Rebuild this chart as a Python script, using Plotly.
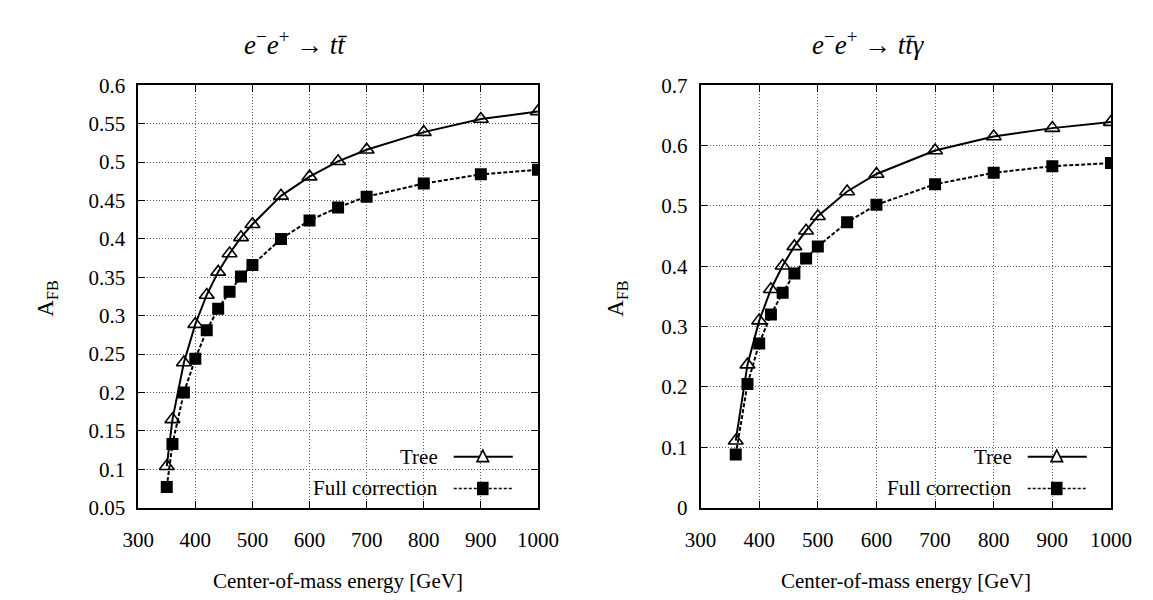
import plotly.graph_objects as go

# ---------------- data ----------------
energy_tt = [350, 360, 380, 400, 420, 440, 460, 480, 500, 550, 600, 650, 700, 800, 900, 1000]
tree_tt = [0.104, 0.165, 0.239, 0.289, 0.327, 0.357, 0.381, 0.402, 0.419, 0.456, 0.481, 0.501, 0.516, 0.539, 0.556, 0.566]
full_tt = [0.077, 0.133, 0.200, 0.244, 0.281, 0.309, 0.331, 0.351, 0.366, 0.400, 0.424, 0.441, 0.455, 0.472, 0.484, 0.490]

energy_ttg = [360, 380, 400, 420, 440, 460, 480, 500, 550, 600, 700, 800, 900, 1000]
tree_ttg = [0.111, 0.237, 0.310, 0.362, 0.401, 0.433, 0.459, 0.483, 0.524, 0.553, 0.592, 0.615, 0.629, 0.639]
full_ttg = [0.088, 0.205, 0.272, 0.320, 0.356, 0.388, 0.413, 0.433, 0.473, 0.502, 0.536, 0.555, 0.566, 0.571]

x_ticks = [300, 400, 500, 600, 700, 800, 900, 1000]
x_ticklabels = ["300", "400", "500", "600", "700", "800", "900", "1000"]
y1_ticks = [0.05, 0.1, 0.15, 0.2, 0.25, 0.3, 0.35, 0.4, 0.45, 0.5, 0.55, 0.6]
y1_ticklabels = ["0.05", "0.1", "0.15", "0.2", "0.25", "0.3", "0.35", "0.4", "0.45", "0.5", "0.55", "0.6"]
y2_ticks = [0, 0.1, 0.2, 0.3, 0.4, 0.5, 0.6, 0.7]
y2_ticklabels = ["0", "0.1", "0.2", "0.3", "0.4", "0.5", "0.6", "0.7"]

series_names = ["Tree", "Full correction"]
titles = ["<i>e</i><sup>\u2212</sup><i>e</i><sup>+</sup> \u2192 <i>t</i><i>t\u0304</i>",
          "<i>e</i><sup>\u2212</sup><i>e</i><sup>+</sup> \u2192 <i>t</i><i>t\u0304</i><i>\u03b3</i>"]
x_title = "Center-of-mass energy [GeV]"
y_title = "A<sub>FB</sub>"

# ---------------- layout helpers ----------------
W, H = 1153, 600
FONT = "Liberation Serif, Times New Roman, serif"


def px(x):
    return x / W


def py(y):
    return 1 - y / H


dom1 = [px(118), px(531)]
dom2 = [px(699), px(1123)]
ydom = [py(508), py(68)]

fig = go.Figure()

tree_style = dict(mode="lines+markers", line=dict(color="black", width=2),
                  marker=dict(symbol="triangle-up-open", size=13, color="black",
                              line=dict(width=1.6, color="black")))
full_style = dict(mode="lines+markers", line=dict(color="black", width=2, dash="4px,2px"),
                  marker=dict(symbol="square", size=12, color="black"))

fig.add_trace(go.Scatter(x=energy_tt, y=tree_tt, name=series_names[0], xaxis="x", yaxis="y",
                         showlegend=False, **tree_style))
fig.add_trace(go.Scatter(x=energy_tt, y=full_tt, name=series_names[1], xaxis="x", yaxis="y",
                         showlegend=False, **full_style))
fig.add_trace(go.Scatter(x=energy_ttg, y=tree_ttg, name=series_names[0], xaxis="x2", yaxis="y2",
                         showlegend=False, **tree_style))
fig.add_trace(go.Scatter(x=energy_ttg, y=full_ttg, name=series_names[1], xaxis="x2", yaxis="y2",
                         showlegend=False, **full_style))

axis_common = dict(showline=True, linecolor="black", linewidth=1.5, mirror="ticks",
                   ticks="inside", ticklen=7, tickwidth=1, tickcolor="black",
                   showgrid=True, gridcolor="#555", gridwidth=1, griddash="1px,2px",
                   zeroline=False, tickfont=dict(family=FONT, size=21, color="black"))

fig.update_layout(
    width=W, height=H,
    margin=dict(l=0, r=0, t=0, b=0),
    paper_bgcolor="white", plot_bgcolor="white",
    showlegend=False,
    font=dict(family=FONT, color="black"),
    xaxis=dict(domain=dom1, range=[300, 1000], tickvals=x_ticks, ticktext=x_ticklabels,
               anchor="y", ticklabelstandoff=12, **axis_common),
    yaxis=dict(domain=ydom, range=[0.05, 0.6], tickvals=y1_ticks, ticktext=y1_ticklabels,
               anchor="x", ticklabelstandoff=7, **axis_common),
    xaxis2=dict(domain=dom2, range=[300, 1000], tickvals=x_ticks, ticktext=x_ticklabels,
                anchor="y2", ticklabelstandoff=12, **axis_common),
    yaxis2=dict(domain=ydom, range=[0, 0.7], tickvals=y2_ticks, ticktext=y2_ticklabels,
                anchor="x2", ticklabelstandoff=7, **axis_common),
)

ann = []
shapes = []
# titles
ann.append(dict(text=titles[0], x=px(281), y=py(24), xref="paper", yref="paper",
                showarrow=False, xanchor="center", yanchor="middle",
                font=dict(family=FONT, size=27, color="black")))
ann.append(dict(text=titles[1], x=px(872), y=py(24), xref="paper", yref="paper",
                showarrow=False, xanchor="center", yanchor="middle",
                font=dict(family=FONT, size=27, color="black")))
# x titles
for cx in [(118 + 531) / 2, (699 + 1123) / 2]:
    ann.append(dict(text=x_title, x=px(cx), y=py(584), xref="paper", yref="paper",
                    showarrow=False, xanchor="center", yanchor="middle",
                    font=dict(family=FONT, size=21, color="black")))
# y titles
for cx in [24, 613]:
    ann.append(dict(text=y_title, x=px(cx), y=py(290), xref="paper", yref="paper",
                    showarrow=False, xanchor="center", yanchor="middle", textangle=-90,
                    font=dict(family=FONT, size=23, color="black")))

# custom keys (text right-aligned, sample to the right)
keys = [dict(box=(240, 531), text_r=430, s0=444, s1=505, m=474),
        dict(box=(832, 1123), text_r=1023, s0=1037, s1=1098, m=1067)]
rows = [455, 488]
for k in keys:
    shapes.append(dict(type="rect", xref="paper", yref="paper", layer="between",
                       x0=px(k["box"][0]), x1=px(k["box"][1] - 1), y0=py(507), y1=py(440),
                       fillcolor="white", line=dict(width=0)))
    for name, ry in zip(series_names, rows):
        ann.append(dict(text=name, x=px(k["text_r"]), y=py(ry), xref="paper", yref="paper",
                        showarrow=False, xanchor="right", yanchor="middle",
                        font=dict(family=FONT, size=21, color="black")))
    # Tree sample
    shapes.append(dict(type="line", xref="paper", yref="paper",
                       x0=px(k["s0"]), x1=px(k["s1"]), y0=py(rows[0]), y1=py(rows[0]),
                       line=dict(color="black", width=2)))
    m = k["m"]
    tri = "M {} {} L {} {} L {} {} Z".format(px(m - 6), py(rows[0] + 5), px(m + 6), py(rows[0] + 5),
                                             px(m), py(rows[0] - 7))
    shapes.append(dict(type="path", xref="paper", yref="paper", path=tri,
                       fillcolor="white", line=dict(color="black", width=1.6)))
    # Full sample
    shapes.append(dict(type="line", xref="paper", yref="paper",
                       x0=px(k["s0"]), x1=px(k["s1"]), y0=py(rows[1]), y1=py(rows[1]),
                       line=dict(color="black", width=1.5, dash="3px,2px")))
    shapes.append(dict(type="rect", xref="paper", yref="paper",
                       x0=px(m - 6), x1=px(m + 6), y0=py(rows[1] + 7), y1=py(rows[1] - 7),
                       fillcolor="black", line=dict(width=0)))

fig.update_layout(annotations=ann, shapes=shapes)
fig.write_html("out.html")
